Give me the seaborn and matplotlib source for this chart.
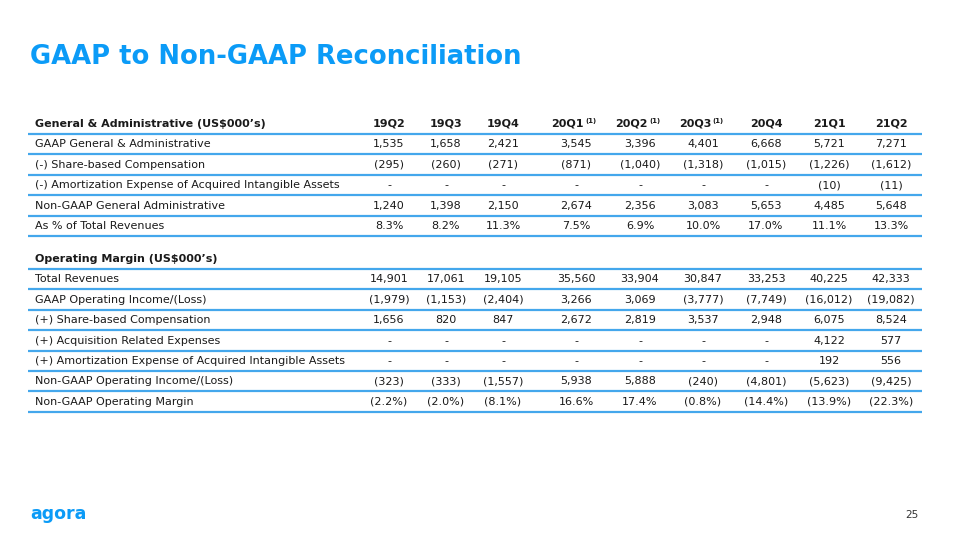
import matplotlib
matplotlib.use("Agg")
import matplotlib.pyplot as plt
import seaborn as sns

# %% Datos de la tabla

trimestres = ["19Q2", "19Q3", "19Q4", "20Q1", "20Q2", "20Q3", "20Q4", "21Q1", "21Q2"]
notas = ["", "", "", "(1)", "(1)", "(1)", "", "", ""]

titulo_ga = "General & Administrative (US$000\u2019s)"
filas_ga = [
    "GAAP General & Administrative",
    "(-) Share-based Compensation",
    "(-) Amortization Expense of Acquired Intangible Assets",
    "Non-GAAP General Administrative",
    "As % of Total Revenues",
]
gaap_ga = [1535, 1658, 2421, 3545, 3396, 4401, 6668, 5721, 7271]
sbc_ga = [-295, -260, -271, -871, -1040, -1318, -1015, -1226, -1612]
amort_ga = [None, None, None, None, None, None, None, -10, -11]
nongaap_ga = [1240, 1398, 2150, 2674, 2356, 3083, 5653, 4485, 5648]
pct_ga = [8.3, 8.2, 11.3, 7.5, 6.9, 10.0, 17.0, 11.1, 13.3]

titulo_om = "Operating Margin (US$000\u2019s)"
filas_om = [
    "Total Revenues",
    "GAAP Operating Income/(Loss)",
    "(+) Share-based Compensation",
    "(+) Acquisition Related Expenses",
    "(+) Amortization Expense of Acquired Intangible Assets",
    "Non-GAAP Operating Income/(Loss)",
    "Non-GAAP Operating Margin",
]
revenues = [14901, 17061, 19105, 35560, 33904, 30847, 33253, 40225, 42333]
gaap_oi = [-1979, -1153, -2404, 3266, 3069, -3777, -7749, -16012, -19082]
sbc_om = [1656, 820, 847, 2672, 2819, 3537, 2948, 6075, 8524]
acq_om = [None, None, None, None, None, None, None, 4122, 577]
amort_om = [None, None, None, None, None, None, None, 192, 556]
nongaap_oi = [-323, -333, -1557, 5938, 5888, -240, -4801, -5623, -9425]
margin_om = [-2.2, -2.0, -8.1, 16.6, 17.4, -0.8, -14.4, -13.9, -22.3]


# %% Funciones de formato

def fmt_num(v):
    if v is None:
        return "-"
    if v < 0:
        return f"({abs(v):,})"
    return f"{v:,}"


def fmt_pct(v):
    if v < 0:
        return f"({abs(v):.1f}%)"
    return f"{v:.1f}%"


valores_ga = [
    [fmt_num(v) for v in gaap_ga],
    [fmt_num(v) for v in sbc_ga],
    [fmt_num(v) for v in amort_ga],
    [fmt_num(v) for v in nongaap_ga],
    [fmt_pct(v) for v in pct_ga],
]
valores_om = [
    [fmt_num(v) for v in revenues],
    [fmt_num(v) for v in gaap_oi],
    [fmt_num(v) for v in sbc_om],
    [fmt_num(v) for v in acq_om],
    [fmt_num(v) for v in amort_om],
    [fmt_num(v) for v in nongaap_oi],
    [fmt_pct(v) for v in margin_om],
]

# %% Estilo

sns.set_theme(style="white")
plt.rcParams["font.family"] = ["DejaVu Sans"]

AZUL = "#0B9BF7"
LINEA = "#44A7EC"
TEXTO = "#1a1a1a"
FS = 8

col_x = [389, 446, 503, 576, 640, 703, 766, 829, 891]
x_label = 35
x_ini, x_fin = 28, 922
alto_fila = 20.4

fig = plt.figure(figsize=(9.6, 5.4), dpi=100)
ax = fig.add_axes([0, 0, 1, 1])
ax.set_xlim(0, 960)
ax.set_ylim(540, 0)
ax.axis("off")

ax.text(30, 57, "GAAP to Non-GAAP Reconciliation", color=AZUL,
        fontsize=18.6, fontweight="bold", va="center", ha="left")


def dibujar_seccion(y0, titulo, filas, valores, encabezado):
    ax.text(x_label, y0, titulo, fontsize=FS, fontweight="bold",
            color=TEXTO, va="center", ha="left")
    if encabezado:
        for x, t, n in zip(col_x, trimestres, notas):
            if n:
                ax.text(x + 8, y0, t, fontsize=FS, fontweight="bold",
                        color=TEXTO, va="center", ha="right")
                ax.text(x + 9, y0 - 2.5, n, fontsize=5, fontweight="bold",
                        color=TEXTO, va="center", ha="left")
            else:
                ax.text(x, y0, t, fontsize=FS, fontweight="bold",
                        color=TEXTO, va="center", ha="center")
    for k, (nombre, fila) in enumerate(zip(filas, valores), start=1):
        y = y0 + alto_fila * k
        ax.text(x_label, y, nombre, fontsize=FS, color=TEXTO,
                va="center", ha="left")
        for x, v in zip(col_x, fila):
            ax.text(x, y, v, fontsize=FS, color=TEXTO,
                    va="center", ha="center")
    lineas = [y0 + 10 + alto_fila * k for k in range(len(filas) + 1)]
    ax.hlines(lineas, x_ini, x_fin, colors=LINEA, linewidth=1.6)


dibujar_seccion(124, titulo_ga, filas_ga, valores_ga, True)
dibujar_seccion(259, titulo_om, filas_om, valores_om, False)

# logo y número de página
ax.text(30, 514, "agora", color=AZUL, fontsize=12.5, fontweight="bold",
        va="center", ha="left")
ax.text(912, 515, "25", color="#333333", fontsize=7.5, va="center", ha="center")

fig.savefig("out.png", dpi=100)
